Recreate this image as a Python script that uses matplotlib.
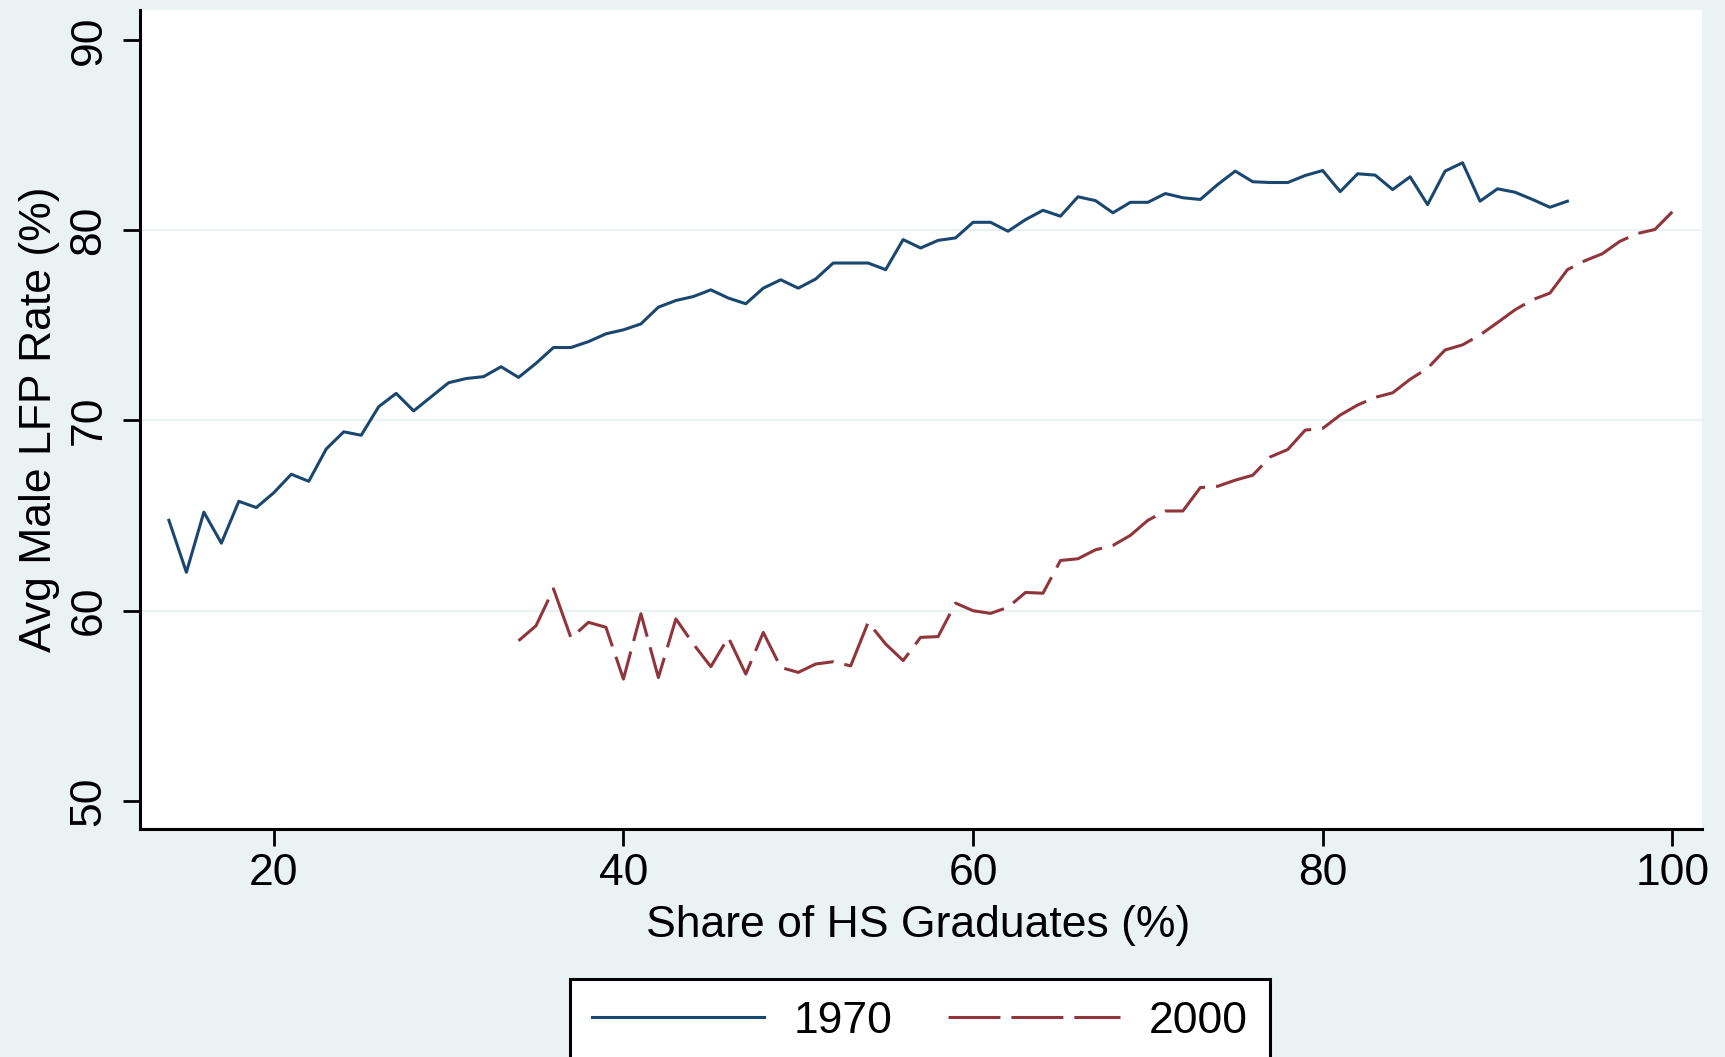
import matplotlib
matplotlib.use("Agg")
import matplotlib.pyplot as plt

plt.rcParams["font.family"] = ["Liberation Sans", "DejaVu Sans"]

# share of HS graduates (%) -> avg male LFP rate (%)
x_1970 = list(range(14, 95))
y_1970 = [
    64.75, 62.02, 65.18, 63.55, 65.75, 65.42, 66.20, 67.17, 66.80, 68.50,
    69.40, 69.22, 70.72, 71.42, 70.50, 71.24, 71.98, 72.20, 72.30, 72.82,
    72.26, 73.00, 73.83, 73.83, 74.14, 74.55, 74.76, 75.07, 75.95, 76.30,
    76.51, 76.86, 76.43, 76.13, 76.95, 77.39, 76.95, 77.43, 78.27, 78.27,
    78.27, 77.92, 79.50, 79.06, 79.46, 79.59, 80.41, 80.41, 79.94, 80.55,
    81.04, 80.73, 81.75, 81.55, 80.91, 81.46, 81.46, 81.92, 81.70, 81.61,
    82.40, 83.10, 82.54, 82.50, 82.50, 82.87, 83.13, 82.02, 82.96, 82.89,
    82.13, 82.80, 81.34, 83.10, 83.54, 81.52, 82.17, 81.99, 81.61, 81.20,
    81.52,
]

x_2000 = list(range(34, 101))
y_2000 = [
    58.42, 59.21, 61.15, 58.57, 59.39, 59.13, 56.41, 59.84, 56.49, 59.57,
    58.25, 57.06, 58.60, 56.67, 58.86, 57.02, 56.76, 57.20, 57.32, 57.10,
    59.39, 58.25, 57.38, 58.60, 58.64, 60.40, 60.00, 59.86, 60.18, 60.96,
    60.92, 62.64, 62.73, 63.20, 63.43, 63.96, 64.75, 65.24, 65.24, 66.47,
    66.54, 66.86, 67.12, 68.08, 68.47, 69.49, 69.58, 70.28, 70.81, 71.21,
    71.45, 72.16, 72.74, 73.70, 73.97, 74.49, 75.14, 75.81, 76.34, 76.69,
    77.92, 78.39, 78.76, 79.41, 79.82, 80.03, 80.96,
]

x_ticks = [20, 40, 60, 80, 100]
y_ticks = [50, 60, 70, 80, 90]
y_grid = [60, 70, 80]

BG = "#EAF2F3"
NAVY = "#1A476F"
MAROON = "#90353B"
FS = 32
LW = 2.2

fig = plt.figure(figsize=(17.25, 10.57), dpi=100, facecolor=BG)
ax = fig.add_axes([0.08099, 0.21552, 0.9055, 0.77474])
ax.set_facecolor("white")

for v in y_grid:
    ax.axhline(v, color=BG, lw=1.6, zorder=0)

l1, = ax.plot(x_1970, y_1970, color=NAVY, lw=LW, label="1970")
l2, = ax.plot(x_2000, y_2000, color=MAROON, lw=LW,
              linestyle=(0, (37.4 / LW, 7.9 / LW)), label="2000")

ax.set_xlim(12.33, 101.68)
ax.set_ylim(48.52, 91.55)
ax.set_xticks(x_ticks)
ax.set_yticks(y_ticks)

for side in ("top", "right"):
    ax.spines[side].set_visible(False)
for side in ("left", "bottom"):
    ax.spines[side].set_linewidth(2.2)
    ax.spines[side].set_color("black")

ax.tick_params(axis="both", direction="out", length=12.2, width=2.0,
               labelsize=FS, color="black")
ax.tick_params(axis="x", pad=5)
ax.tick_params(axis="y", pad=9.5)
plt.setp(ax.get_yticklabels(), rotation=90, va="center", ha="right")

ax.set_xlabel("Share of HS Graduates (%)", fontsize=FS)
ax.set_ylabel("Avg Male LFP Rate (%)", fontsize=FS)
ax.xaxis.set_label_coords(0.4986, -0.092)
ax.yaxis.set_label_coords(-0.0513, 0.5)

leg = fig.legend(
    handles=[l1, l2], loc="upper center", bbox_to_anchor=(0.5333, 0.0740),
    ncol=2, fontsize=FS, frameon=True, fancybox=False, framealpha=1,
    edgecolor="black", facecolor="white", handlelength=3.87,
    handletextpad=0.65, columnspacing=1.25, borderpad=0.5, borderaxespad=0,
)
leg.get_frame().set_linewidth(2.2)

fig.savefig("out.png", dpi=100, facecolor=BG)
